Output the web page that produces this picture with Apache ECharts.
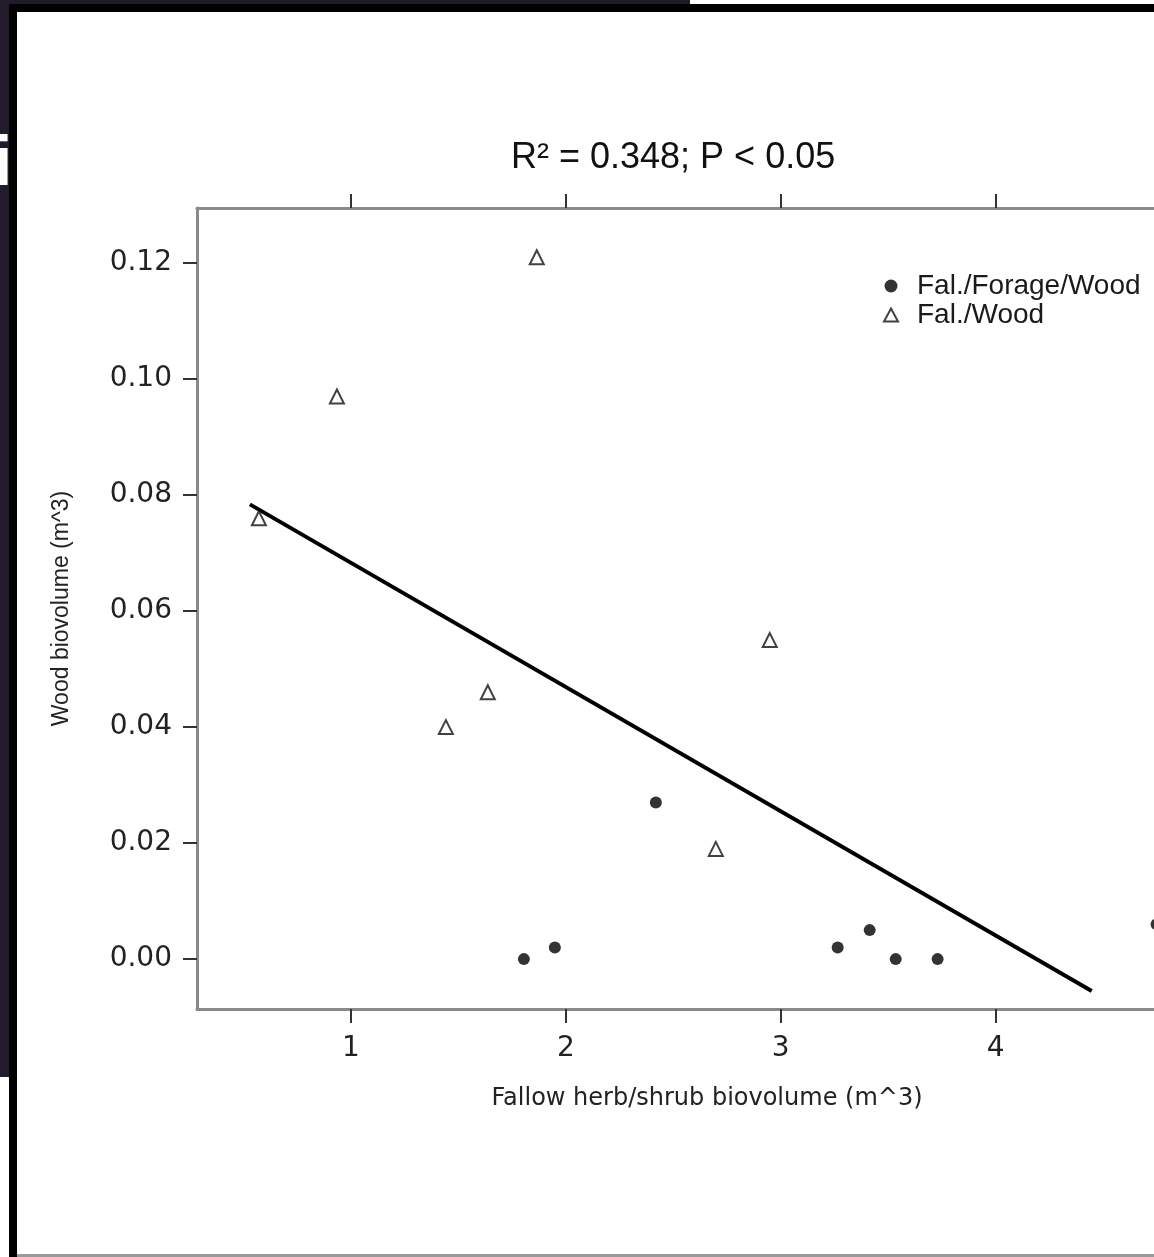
<!DOCTYPE html>
<html lang="en">
	<head>
		<meta charset="UTF-8" />
		<title>Wood vs fallow biovolume</title>
		<style>
			html, body { margin: 0; padding: 0; background: #fff; }
			#frame { position: relative; width: 1154px; height: 1257px; overflow: hidden; background: #fff; }
			.dark { position: absolute; background: #221b2b; }
			.blk { position: absolute; background: #000; }
			#letter { position: absolute; left: 0; top: 0; width: 9px; height: 1077px; overflow: hidden; background: #221b2b; }
			#letter span { position: absolute; left: -7px; top: 126px; font: bold 70px/70px "Liberation Sans", Arial, sans-serif; color: #fff; }
			#bottomline { position: absolute; left: 17px; right: 0; top: 1254px; height: 3px; background: #9a9a9a; }
			/* chart is wider than the picture: the plot box runs past the right edge */
			#chart { position: absolute; left: 0; top: 0; width: 1300px; height: 1257px; }
		</style>
	</head>
	<body>
		<div id="frame">
			<div id="letter"><span>i</span></div>
			<div class="dark" style="left:0;top:0;width:690px;height:4px"></div>
			<div class="blk" style="left:9px;top:4px;width:8px;height:1253px"></div>
			<div class="blk" style="left:9px;top:4px;width:1145px;height:8px"></div>
			<div id="bottomline"></div>
			<div id="chart"></div>
		</div>
		<script src="https://cdn.jsdelivr.net/npm/echarts@6/dist/echarts.min.js"></script>
		<script>
			// Fal./Forage/Wood (filled circles)
			const forageX = [1.805, 1.949, 2.419, 3.265, 3.414, 3.535, 3.73, 4.749];
			const forageY = [0.0, 0.002, 0.027, 0.002, 0.005, 0.0, 0.0, 0.006];
			// Fal./Wood (open triangles)
			const woodX = [0.572, 0.935, 1.442, 1.637, 1.865, 2.698, 2.949];
			const woodY = [0.076, 0.097, 0.04, 0.046, 0.121, 0.019, 0.055];
			// fitted line end points
			const fitX = [0.53, 4.447];
			const fitY = [0.0784, -0.0055];
			const xTicks = [1, 2, 3, 4];
			const yTicks = [0, 0.02, 0.04, 0.06, 0.08, 0.1, 0.12];

			const FONT = '"Liberation Sans", Arial, Helvetica, sans-serif';
			const WIDE = '"DejaVu Sans", Verdana, sans-serif';
			const axisGray = "#8a8a8a";

			function pairs(xs, ys) {
				return xs.map(function (x, i) { return [x, ys[i]]; });
			}

			window.onload = function () {
				let chart = echarts.init(document.getElementById("chart"), null, { renderer: "canvas" });
				let option = {
					backgroundColor: "transparent",
					animation: false,
					title: {
						text: "R² = 0.348; P < 0.05",
						left: 506,
						top: 135,
						textStyle: { fontFamily: FONT, fontSize: 36, fontWeight: "normal", color: "#111" },
					},
					legend: {
						orient: "vertical",
						left: 878,
						top: 267,
						itemWidth: 14,
						itemHeight: 13,
						itemGap: 1,
						data: ["Fal./Forage/Wood", "Fal./Wood"],
						textStyle: { fontFamily: FONT, fontSize: 28, color: "#1a1a1a", lineHeight: 25, padding: [0, 0, 0, 14] },
					},
					grid: { left: 197, top: 208, right: 83, bottom: 248, containLabel: false },
					xAxis: [
						{
							type: "value",
							min: 0.284,
							max: 5.03,
							name: "Fallow herb/shrub biovolume (m^3)",
							nameLocation: "middle",
							nameGap: 78,
							nameTextStyle: { fontFamily: WIDE, fontSize: 24, color: "#222" },
							axisLine: { onZero: false, lineStyle: { color: axisGray, width: 3 } },
							axisTick: { customValues: xTicks, length: 14, lineStyle: { color: "#333", width: 2 } },
							axisLabel: { customValues: xTicks, margin: 26, fontFamily: WIDE, fontSize: 28, color: "#222" },
							splitLine: { show: false },
						},
						{
							type: "value",
							position: "top",
							min: 0.284,
							max: 5.03,
							axisLine: { onZero: false, lineStyle: { color: axisGray, width: 3 } },
							axisTick: { customValues: xTicks, length: 14, lineStyle: { color: "#333", width: 2 } },
							axisLabel: { show: false },
							splitLine: { show: false },
						},
					],
					yAxis: {
						type: "value",
						min: -0.0086,
						max: 0.1295,
						name: "Wood biovolume (m^3)",
						nameLocation: "middle",
						nameGap: 124,
						nameTextStyle: { fontFamily: FONT, fontSize: 23, color: "#222" },
						axisLine: { show: true, onZero: false, lineStyle: { color: axisGray, width: 3 } },
						axisTick: { show: true, customValues: yTicks, length: 14, lineStyle: { color: "#333", width: 2 } },
						axisLabel: {
							customValues: yTicks,
							margin: 25,
							fontFamily: WIDE,
							fontSize: 28,
							color: "#222",
							formatter: function (v) { return v.toFixed(2); },
						},
						splitLine: { show: false },
					},
					series: [
						{
							name: "Fal./Forage/Wood",
							type: "scatter",
							symbol: "circle",
							symbolSize: 12,
							itemStyle: { color: "#000" },
							data: pairs(forageX, forageY),
						},
						{
							name: "Fal./Wood",
							type: "scatter",
							symbol: "triangle",
							symbolSize: 14,
							itemStyle: { color: "#fff", borderColor: "#111", borderWidth: 2 },
							data: pairs(woodX, woodY),
						},
						{
							name: "fit",
							type: "line",
							showSymbol: false,
							symbol: "none",
							lineStyle: { color: "#000", width: 4 },
							data: pairs(fitX, fitY),
							z: 1,
						},
					],
				};
				chart.setOption(option);
			};
		</script>
	</body>
</html>
